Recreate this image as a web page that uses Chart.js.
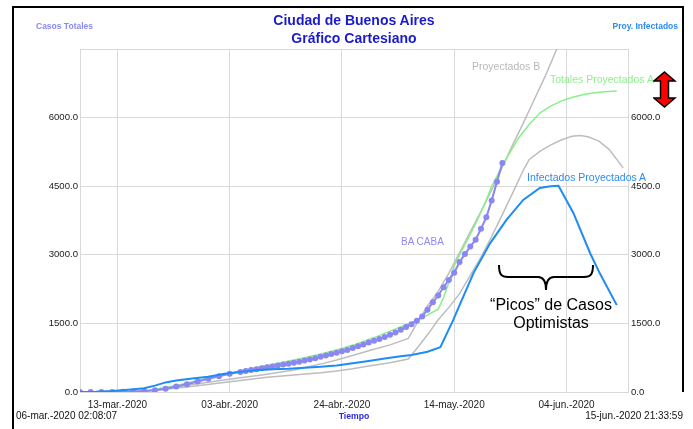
<!DOCTYPE html>
<html>
<head>
<meta charset="utf-8">
<script src="https://cdn.jsdelivr.net/npm/chart.js@4.4.1/dist/chart.umd.min.js"></script>
<style>
body{margin:0;background:#fff;}
#wrap{position:relative;width:693px;height:429px;overflow:hidden;font-family:'Liberation Sans',Arial,sans-serif;}
#myChart{position:absolute;left:0;top:0;}
.t{position:absolute;white-space:nowrap;line-height:1;}
.c{transform:translate(-50%,-50%);}
.l{transform:translate(0,-50%);}
.r{transform:translate(-100%,-50%);}
.linea{position:absolute;background:#000;}
</style>
</head>
<body>
<div id="wrap">
  <canvas id="myChart" width="693" height="429"></canvas>

  <div class="linea" style="left:12px;top:6px;width:672px;height:2px"></div>
  <div class="linea" style="left:12px;top:6px;width:2px;height:430px"></div>
  <div class="linea" style="left:682px;top:6px;width:2px;height:386px"></div>

  <div class="t c" style="left:354px;top:20px;font-size:14px;font-weight:bold;color:#1a1acd">Ciudad de Buenos Aires</div>
  <div class="t c" style="left:354px;top:38px;font-size:14px;font-weight:bold;color:#1a1acd">Gráfico Cartesiano</div>
  <div class="t l" style="left:36px;top:26px;font-size:8.5px;font-weight:bold;color:#8a8af5">Casos Totales</div>
  <div class="t r" style="left:678px;top:26px;font-size:8.5px;font-weight:bold;color:#2a8af0">Proy. Infectados</div>

  <div class="t l" style="left:472px;top:66px;font-size:10.5px;color:#b8b8b8">Proyectados B</div>
  <div class="t l" style="left:550px;top:79px;font-size:10.5px;color:#8cf08c">Totales Proyectados A</div>
  <div class="t l" style="left:527px;top:177px;font-size:10.5px;color:#2a8cf5">Infectados Proyectados A</div>
  <div class="t l" style="left:401px;top:242px;font-size:10px;color:#8f8af5">BA CABA</div>

  <svg style="position:absolute;left:496px;top:262px" width="100" height="32">
    <path d="M3,3 C3,12 5,15 12,15 L42,15 C47,15 50,19 50,28 C50,19 53,15 58,15 L88,15 C95,15 97,12 97,3" fill="none" stroke="#000" stroke-width="2"/>
  </svg>
  <div class="t c" style="left:551px;top:305px;font-size:16px;color:#000">“Picos” de Casos</div>
  <div class="t c" style="left:551px;top:323px;font-size:16px;color:#000">Optimistas</div>

  <svg style="position:absolute;left:653px;top:71px" width="24" height="38">
    <polygon points="11.5,1 22,10 15.5,10 15.5,27 22,27 11.5,36 1,27 7.5,27 7.5,10 1,10" fill="#ff0000" stroke="#000" stroke-width="1.5"/>
  </svg>

  <div class="t l" style="left:16px;top:416px;font-size:10px;color:#111">06-mar.-2020 02:08:07</div>
  <div class="t c" style="left:354px;top:416px;font-size:8.7px;font-weight:bold;color:#2a2ae0">Tiempo</div>
  <div class="t r" style="left:683px;top:416px;font-size:10px;color:#111">15-jun.-2020 21:33:59</div>
</div>

<script>
// dias contados desde 06-mar-2020
const tickDias = [7, 28, 49, 70, 91]
const tickEtiquetas = ['13-mar.-2020', '03-abr.-2020', '24-abr.-2020', '14-may.-2020', '04-jun.-2020']

// BA CABA (datos reales)
const cabaDias = [0,2,4,6,8,10,12,14,16,18,20,22,24,26,28,
  30,31,32,33,34,35,36,37,38,39,40,41,42,43,44,45,46,47,48,49,
  50,51,52,53,54,55,56,57,58,59,60,61,62,63,64,65,66,67,68,69,
  70,71,72,73,74,75,76,77,78,79]
const cabaCasos = [0,0,0,0,5,10,20,40,70,120,170,230,290,345,400,
  440,460,480,500,520,540,560,580,600,620,640,660,690,710,740,770,800,830,860,890,
  920,960,1000,1040,1080,1120,1160,1200,1250,1300,1360,1420,1480,1560,1650,1800,1960,2110,2290,2450,
  2610,2840,3020,3180,3330,3570,3820,4190,4600,5010]

// Totales Proyectados A
const totalesDias = [14,18,22,26,30,34,38,42,46,49,52,55,58,61,64,67,68,69,70,71,72,73,74,75,76,77,78,80,82,84,86,88,90,92,94,96,98,100.4]
const totalesCasos = [60,140,250,360,460,560,650,750,860,950,1060,1190,1330,1470,1620,1810,2060,2400,2760,3000,3220,3450,3680,3930,4200,4500,4720,5150,5550,5850,6100,6250,6360,6440,6500,6540,6565,6580]

// Proyectados B
const bDias = [10,15,20,25,30,35,40,45,48,51,54,58,61.4,63,65,67,69,71,73,75,77,79,81,83,85,87,89,91]
const bCasos = [0,60,150,230,310,390,480,610,700,800,900,1030,1170,1500,1880,2200,2600,3050,3500,3950,4420,4920,5420,5900,6400,6900,7450,7950]

// otra proyeccion (gris, con pico)
const cDias = [10,15,20,25,30,35,40,45,48,51,54,58,61.4,63,65,67,69,71,73,75,77,79,81,83,84,86,88,90,92,93.6,95,97,99,101.6]
const cCasos = [0,50,110,180,250,320,370,420,460,510,570,640,720,950,1250,1580,1850,2150,2550,2950,3400,3880,4370,4870,5080,5260,5400,5510,5590,5610,5580,5490,5300,4900]

// Infectados Proyectados A
const infDias = [0,3,6,9,12,14,16,18,21,24,27,30,33,36,39,42,45,48,51,54,57,60,62,65,67.4,69.8,71,73.6,76.7,79.8,82.9,86,88,89.5,92.3,95.4,97.2,100.4]
const infCasos = [0,5,20,50,80,140,210,250,295,335,400,440,475,500,510,530,550,580,630,680,730,780,810,880,980,1570,1900,2600,3250,3770,4200,4460,4500,4510,3910,3040,2600,1900]

const puntos = (dias, valores) => dias.map((d, i) => ({x: d, y: valores[i]}))

Chart.defaults.font.family = "'Liberation Sans', Arial, sans-serif"
Chart.defaults.color = '#222'

const grilla = '#d9d9d9'
const config = {
    type: 'line',
    data: {
        datasets: [
            {label: 'Infectados Proyectados A', data: puntos(infDias, infCasos), borderColor: '#1e8cf5', borderWidth: 2, pointRadius: 0, yAxisID: 'y2'},
            {label: 'BA CABA', data: puntos(cabaDias, cabaCasos), borderColor: '#8a86f2', backgroundColor: '#8a86f2', borderWidth: 2, pointRadius: 3, pointBorderWidth: 0},
            {label: 'Totales Proyectados A', data: puntos(totalesDias, totalesCasos), borderColor: '#88f088', borderWidth: 1.5, pointRadius: 0},
            {label: 'Proyectados B', data: puntos(bDias, bCasos), borderColor: '#bdbdbd', borderWidth: 1.5, pointRadius: 0},
            {label: 'Proyectados C', data: puntos(cDias, cCasos), borderColor: '#bdbdbd', borderWidth: 1.5, pointRadius: 0}
        ]
    },
    options: {
        responsive: false,
        animation: false,
        layout: {padding: {top: 49, left: 0, right: 0, bottom: 0}},
        plugins: {legend: {display: false}, tooltip: {enabled: false}},
        scales: {
            x: {
                type: 'linear', min: 0, max: 102.5,
                afterBuildTicks: (s) => { s.ticks = tickDias.map(v => ({value: v})) },
                afterFit: (s) => { s.height = 37 },
                grid: {color: grilla, drawTicks: false},
                border: {display: false},
                ticks: {
                    padding: 7, maxRotation: 0, autoSkip: false, font: {size: 10},
                    callback: (v) => tickEtiquetas[tickDias.indexOf(v)]
                }
            },
            y: {
                position: 'left', min: 0, max: 7500,
                afterFit: (s) => { s.width = 80 },
                grid: {color: grilla, drawTicks: false},
                border: {color: grilla},
                ticks: {stepSize: 1500, padding: 2, font: {size: 9.6}, callback: (v) => v === 7500 ? '' : v.toFixed(1)}
            },
            y2: {
                position: 'right', min: 0, max: 7500,
                afterFit: (s) => { s.width = 65 },
                grid: {drawOnChartArea: false, drawTicks: false},
                border: {color: grilla},
                ticks: {stepSize: 1500, padding: 3, font: {size: 9.6}, callback: (v) => v === 7500 ? '' : v.toFixed(1)}
            }
        }
    }
}

const grafico = new Chart(document.getElementById('myChart'), config)
</script>
</body>
</html>
